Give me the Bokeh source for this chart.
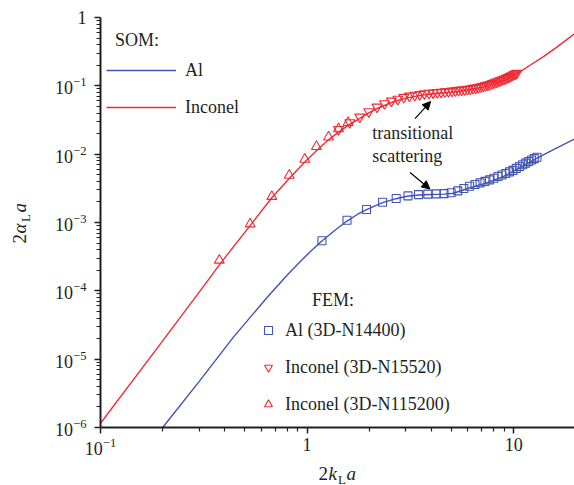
from bokeh.plotting import figure
from bokeh.layouts import row, column
from bokeh.models import (FixedTicker, Legend, LegendItem, Label, Arrow,
                          NormalHead, Range1d)
from bokeh.core.properties import value
from bokeh.embed import file_html
from bokeh.resources import INLINE

# ---------------- data ----------------
# SOM curves
som_al_x = [0.19, 0.2, 0.3, 0.44, 0.64, 0.8, 0.93, 1.05, 1.18, 1.36, 1.56, 1.75,
            1.94, 2.32, 2.7, 3.05, 3.5, 4.0, 4.6, 5.1, 6.1, 7.4, 8.9, 10.7,
            12.9, 15.5, 19.7]
som_al_y = [8.2e-7, 1.0e-6, 4.7e-6, 2.1e-5, 8.0e-5, 1.69e-4, 2.71e-4, 3.88e-4,
            5.35e-4, 7.63e-4, 1.05e-3, 1.31e-3, 1.54e-3, 1.95e-3, 2.23e-3,
            2.42e-3, 2.53e-3, 2.57e-3, 2.6e-3, 2.68e-3, 3.2e-3, 3.8e-3,
            4.7e-3, 6.3e-3, 8.7e-3, 1.16e-2, 1.67e-2]

som_in_x = [0.1, 0.2, 0.3, 0.38, 0.53, 0.675, 0.83, 0.98, 1.13, 1.27, 1.42,
            1.6, 1.8, 2.0, 2.2, 2.6, 3.0, 3.5, 4.0, 5.0, 6.0, 7.0, 8.0, 9.0,
            10.0, 11.0, 12.0, 14.0, 16.0, 19.7]
som_in_y = [1.15e-6, 1.85e-5, 9.5e-5, 2.5e-4, 9.0e-4, 2.3e-3, 4.6e-3, 7.8e-3,
            0.0118, 0.0162, 0.021, 0.027, 0.0335, 0.0405, 0.047, 0.058, 0.066,
            0.072, 0.076, 0.081, 0.087, 0.095, 0.107, 0.122, 0.143, 0.168,
            0.20, 0.27, 0.36, 0.58]

# FEM: Al (3D-N14400)
fem_al_x = [1.18, 1.56, 1.94, 2.32, 2.70, 3.08, 3.46, 3.84, 4.22, 4.60, 4.98,
            5.36, 5.74, 6.12, 6.50, 6.88, 7.26, 7.64, 8.02, 8.40, 8.78, 9.16,
            9.54, 9.92, 10.30, 10.68, 11.06, 11.44, 11.82, 12.20, 12.58, 12.96]
fem_al_y = [5.4e-4, 1.08e-3, 1.55e-3, 1.98e-3, 2.25e-3, 2.45e-3, 2.56e-3,
            2.60e-3, 2.62e-3, 2.65e-3, 2.72e-3, 2.9e-3, 3.15e-3, 3.4e-3,
            3.6e-3, 3.8e-3, 4.0e-3, 4.2e-3, 4.45e-3, 4.7e-3, 4.95e-3, 5.2e-3,
            5.5e-3, 5.8e-3, 6.2e-3, 6.6e-3, 7.0e-3, 7.4e-3, 7.8e-3, 8.2e-3,
            8.6e-3, 9.0e-3]

# FEM: Inconel (3D-N15520)
fem_in1_x = [1.42, 1.61, 1.80, 1.99, 2.18, 2.37, 2.56, 2.75, 2.94, 3.13, 3.32,
             3.51, 3.70, 3.89, 4.08, 4.27, 4.46, 4.65, 4.84, 5.03, 5.22, 5.41,
             5.60, 5.79, 5.98, 6.17, 6.36, 6.55, 6.74, 6.93, 7.12, 7.31, 7.50,
             7.69, 7.88, 8.07, 8.26, 8.45, 8.64, 8.83, 9.02, 9.21, 9.40, 9.59,
             9.78, 9.97, 10.16, 10.35]
fem_in1_y = [0.023, 0.029, 0.035, 0.042, 0.049, 0.055, 0.060, 0.064, 0.068,
             0.071, 0.073, 0.075, 0.077, 0.078, 0.079, 0.080, 0.081, 0.082,
             0.083, 0.084, 0.085, 0.086, 0.087, 0.088, 0.089, 0.090, 0.092,
             0.093, 0.095, 0.097, 0.099, 0.101, 0.103, 0.105, 0.108, 0.111,
             0.114, 0.117, 0.120, 0.123, 0.126, 0.129, 0.133, 0.137, 0.141,
             0.145, 0.149, 0.153]

# FEM: Inconel (3D-N115200)
fem_in2_x = [0.376, 0.53, 0.675, 0.82, 0.975, 1.11, 1.27, 1.42, 1.58]
fem_in2_y = [2.8e-4, 9.5e-4, 2.4e-3, 4.9e-3, 8.4e-3, 0.0129, 0.0178, 0.0235,
             0.029]

x_major = [0.1, 1, 10]
x_minor = [0.2, 0.3, 0.4, 0.5, 0.6, 0.7, 0.8, 0.9, 2, 3, 4, 5, 6, 7, 8, 9]
y_major = [1e-6, 1e-5, 1e-4, 1e-3, 1e-2, 1e-1, 1]
y_minor = [m * d for d in [1e-6, 1e-5, 1e-4, 1e-3, 1e-2, 1e-1]
           for m in [2, 3, 4, 5, 6, 7, 8, 9]]

# axis title pieces: (text, font size, style)
xlab_pieces = [("2", "19px", "normal"), ("k", "19px", "italic"),
               ("L", "13px", "normal"), ("a", "19px", "italic")]
ylab_pieces = [("2", "19px", "normal"), ("\u03b1", "19px", "italic"),
               ("L", "13px", "normal"), ("a", "19px", "italic")]

# ---------------- styling ----------------
BLUE = "#4153b3"
RED = "#ee2b33"
INK = "#231f20"
FONT = "Liberation Serif"

YLAB_W = 40
MAIN_H = 465

p = figure(width=574 - YLAB_W, height=MAIN_H, x_axis_type="log",
           y_axis_type="log",
           x_range=Range1d(0.1, 19.7), y_range=Range1d(1e-6, 1),
           output_backend="svg", toolbar_location=None,
           min_border_left=100 - YLAB_W, min_border_right=0,
           min_border_top=17, min_border_bottom=MAIN_H - 427)
p.outline_line_color = None
p.xgrid.visible = False
p.ygrid.visible = False

p.xaxis.ticker = FixedTicker(ticks=x_major, minor_ticks=x_minor)
p.yaxis.ticker = FixedTicker(ticks=y_major, minor_ticks=y_minor)
p.xaxis.major_label_overrides = {1: "1", 10: "10"}
p.yaxis.major_label_overrides = {1: "1"}
for ax in (p.xaxis, p.yaxis):
    ax.axis_line_width = 2
    ax.axis_line_color = INK
    ax.major_tick_line_color = INK
    ax.minor_tick_line_color = INK
    ax.major_tick_line_width = 1.5
    ax.minor_tick_line_width = 1.2
    ax.major_tick_out = 6
    ax.major_tick_in = 0
    ax.minor_tick_out = 4
    ax.minor_tick_in = 0
    ax.major_label_text_font = FONT
    ax.major_label_text_font_size = "18px"
    ax.major_label_text_color = INK
p.xaxis.major_label_standoff = 4
p.yaxis.major_label_standoff = 8

# SOM lines
r_al = p.line(som_al_x, som_al_y, line_color=BLUE, line_width=1.4)
r_in = p.line(som_in_x, som_in_y, line_color=RED, line_width=1.4)

# FEM markers
r_fa = p.scatter(fem_al_x, fem_al_y, marker="square", size=8,
                 fill_color=None, line_color=BLUE, line_width=1.1)
r_f1 = p.scatter(fem_in1_x, fem_in1_y, marker="inverted_triangle", size=10,
                 fill_color=None, line_color=RED, line_width=1.1)
r_f2 = p.scatter(fem_in2_x, fem_in2_y, marker="triangle", size=10,
                 fill_color=None, line_color=RED, line_width=1.1)

NB = "\u00a0"


def make_legend(title, items, loc, gw, standoff):
    lg = Legend(items=items, title=title, location=loc,
                orientation="vertical", padding=0, margin=0, spacing=15,
                glyph_width=gw, glyph_height=22, label_height=22,
                label_standoff=standoff, title_standoff=8,
                background_fill_alpha=0, border_line_color=None,
                label_text_font=FONT, label_text_font_size="18px",
                label_text_color=INK, title_text_font=FONT,
                title_text_font_size="18px", title_text_font_style="normal",
                title_text_color=INK)
    p.add_layout(lg, "center")


make_legend(NB * 2 + "SOM:", [LegendItem(label="Al", renderers=[r_al]),
                              LegendItem(label="Inconel", renderers=[r_in])],
            (6, 309), 70, 9)
make_legend(NB * 12 + "FEM:",
            [LegendItem(label="Al (3D-N14400)", renderers=[r_fa]),
             LegendItem(label="Inconel (3D-N15520)", renderers=[r_f1]),
             LegendItem(label="Inconel (3D-N115200)", renderers=[r_f2])],
            (158, 12), 20, 7)

# annotation
for txt, yy in (("transitional", 0.0204), ("scattering", 0.00927)):
    p.add_layout(Label(x=2.07, y=yy, text=txt, text_font=FONT,
                       text_font_size="18px", text_color=INK,
                       text_baseline="middle", text_align="left"))
p.add_layout(Arrow(x_start=3.33, y_start=0.0332, x_end=3.96, y_end=0.0589,
                   line_color="black", line_width=1.2,
                   end=NormalHead(size=8, fill_color="black",
                                  line_color="black")))
p.add_layout(Arrow(x_start=3.15, y_start=5.4e-3, x_end=3.93, y_end=3.1e-3,
                   line_color="black", line_width=1.2,
                   end=NormalHead(size=8, fill_color="black",
                                  line_color="black")))


def blank_fig(w, h, xr, yr):
    f = figure(width=w, height=h, x_range=Range1d(*xr), y_range=Range1d(*yr),
               output_backend="svg", toolbar_location=None,
               x_axis_location=None, y_axis_location=None,
               min_border=0, min_border_left=0, min_border_right=0,
               min_border_top=0, min_border_bottom=0)
    f.xgrid.visible = False
    f.ygrid.visible = False
    f.outline_line_color = None
    return f


# x axis title strip (below main plot); its frame lines up with the main
# frame (page x 100..574), so the range is given in page pixels
xl = blank_fig(574 - YLAB_W, 485 - MAIN_H, (100, 574), (0, 485 - MAIN_H))
xpos = [318, 328, 337.5, 346]
ypos = [12, 12, 6, 12]
for (t, s, st), xx, yy in zip(xlab_pieces, xpos, ypos):
    xl.text(x=[xx], y=[yy], text=[t], text_font=value(FONT),
            text_font_size=s, text_font_style=st, text_color=INK,
            text_baseline="middle", text_align="left")

# y axis title strip (left of main plot), rotated text
yl = blank_fig(YLAB_W, 485, (0, YLAB_W), (0, 485))
xpos = [19, 19, 24.5, 19]
ypos = [242, 252, 263.5, 273]
for (t, s, st), xx, yy in zip(ylab_pieces, xpos, ypos):
    yl.text(x=[xx], y=[yy], text=[t], text_font=value(FONT),
            text_font_size=s, text_font_style=st, text_color=INK,
            angle=1.5707963, text_baseline="middle", text_align="left")

layout = row(yl, column(p, xl, spacing=0), spacing=0)
open("out.html", "w").write(file_html(layout, INLINE))
